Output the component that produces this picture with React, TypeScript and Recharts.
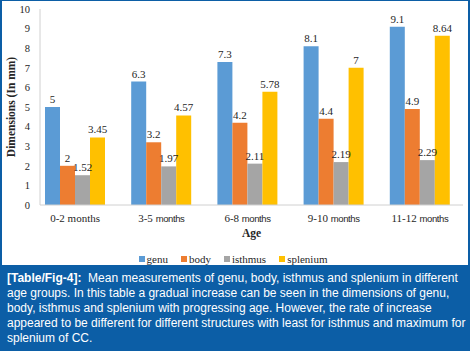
import React from 'react';
import { BarChart, Bar, XAxis, YAxis, Legend, LabelList } from 'recharts';

const ageGroups = ['0-2 months', '3-5 months', '6-8 months', '9-10 months', '11-12 months'];
const seriesNames = ['genu', 'body', 'isthmus', 'splenium'];
const genu = [5, 6.3, 7.3, 8.1, 9.1];
const body = [2, 3.2, 4.2, 4.4, 4.9];
const isthmus = [1.52, 1.97, 2.11, 2.19, 2.29];
const splenium = [3.45, 4.57, 5.78, 7, 8.64];
const yTicks = [0, 1, 2, 3, 4, 5, 6, 7, 8, 9, 10];

const captionLines = [
  'Mean measurements of genu, body, isthmus and splenium in different',
  'age groups. In this table a gradual increase can be seen in the dimensions of genu,',
  'body, isthmus and splenium with progressing age. However, the rate of increase',
  'appeared to be different for different structures with least for isthmus and maximum for',
  'splenium of CC.',
];

const data = ageGroups.map((age, i) => ({
  age,
  genu: genu[i],
  body: body[i],
  isthmus: isthmus[i],
  splenium: splenium[i],
}));

const serif = '"Liberation Serif", "Times New Roman", serif';
const sans = '"Liberation Sans", Arial, sans-serif';
const BLUE = '#0c5ea6';

const AgeTick = (props: any) => {
  const { x, y, payload, index } = props;
  const [num, unit] = String(payload.value).split(' ');
  const first = index === 0;
  return (
    <text x={x} y={y + 9} textAnchor="middle" fill="#262626" fontSize={11} fontFamily={serif}>
      <tspan>{num} </tspan>
      <tspan fontFamily={first ? serif : sans} fontSize={first ? 11 : 9.5} letterSpacing={first ? 0 : -0.4}>
        {unit}
      </tspan>
    </text>
  );
};

const LegendBox = (props: any) => {
  const items = [...(props.payload || [])].sort(
    (a: any, b: any) => seriesNames.indexOf(a.value) - seriesNames.indexOf(b.value)
  );
  return (
    <div style={{ display: 'flex', justifyContent: 'center', paddingLeft: 9, fontFamily: serif, fontSize: 11, color: '#262626' }}>
      {items.map((p: any) => (
        <div key={p.value} style={{ display: 'flex', alignItems: 'center', marginRight: 13 }}>
          <span style={{ width: 6, height: 6, background: p.color, marginRight: 2, display: 'inline-block' }} />
          <span>{p.value}</span>
        </div>
      ))}
    </div>
  );
};

const labelStyle = { fill: '#262626', fontSize: 11, fontFamily: serif };

export default function App() {
  return (
    <div style={{ position: 'relative', width: 470, height: 351, background: BLUE, overflow: 'hidden' }}>
      <style>{'body{margin:0}'}</style>
      <div style={{ position: 'absolute', left: 2, top: 1, width: 466, height: 264, background: '#fff' }} />
      <div style={{ position: 'absolute', left: 0, top: 0 }}>
        <BarChart
          width={470}
          height={265}
          data={data}
          margin={{ top: 9, right: 7, left: 0, bottom: 28 }}
          barSize={15}
          barGap={0}
        >
          <XAxis
            dataKey="age"
            height={32}
            tick={<AgeTick />}
            tickLine={false}
            axisLine={{ stroke: '#d0d0d0' }}
            padding={{ left: -8, right: 0 }}
            interval={0}
            label={{ value: 'Age', position: 'insideBottom', offset: 0, fill: '#262626', fontSize: 11.5, fontWeight: 'bold', fontFamily: serif }}
          />
          <YAxis
            width={40}
            domain={[0, 10]}
            ticks={yTicks}
            interval={0}
            tickLine={false}
            tickMargin={4}
            axisLine={{ stroke: '#d0d0d0' }}
            tick={{ fill: '#262626', fontSize: 10.5, fontFamily: serif }}
            label={{
              value: 'Dimensions  (In mm)',
              angle: -90,
              position: 'insideLeft',
              offset: 11,
              style: { textAnchor: 'middle', fill: '#262626', fontSize: 11.5, fontWeight: 'bold', fontFamily: serif, whiteSpace: 'pre' },
            }}
          />
          <Legend
            verticalAlign="middle"
            align="center"
            content={<LegendBox />}
            wrapperStyle={{ top: 253, left: 0, width: 470, height: 12 }}
          />
          <Bar dataKey="genu" name="genu" fill="#5b9bd5" isAnimationActive={false}>
            <LabelList dataKey="genu" position="top" offset={4} style={labelStyle} />
          </Bar>
          <Bar dataKey="body" name="body" fill="#ed7d31" isAnimationActive={false}>
            <LabelList dataKey="body" position="top" offset={4} style={labelStyle} />
          </Bar>
          <Bar dataKey="isthmus" name="isthmus" fill="#a5a5a5" isAnimationActive={false}>
            <LabelList dataKey="isthmus" position="top" offset={4} style={labelStyle} />
          </Bar>
          <Bar dataKey="splenium" name="splenium" fill="#ffc000" isAnimationActive={false}>
            <LabelList dataKey="splenium" position="top" offset={4} style={labelStyle} />
          </Bar>
        </BarChart>
      </div>
      <div
        style={{
          position: 'absolute',
          left: 7,
          top: 271,
          color: '#fff',
          fontFamily: sans,
          fontSize: 12,
          lineHeight: '15px',
          whiteSpace: 'pre',
        }}
      >
        {captionLines.map((line, i) => (
          <div key={i}>
            {i === 0 && <b>[Table/Fig-4]:</b>}
            {i === 0 ? '  ' : ''}
            {line}
          </div>
        ))}
      </div>
    </div>
  );
}
